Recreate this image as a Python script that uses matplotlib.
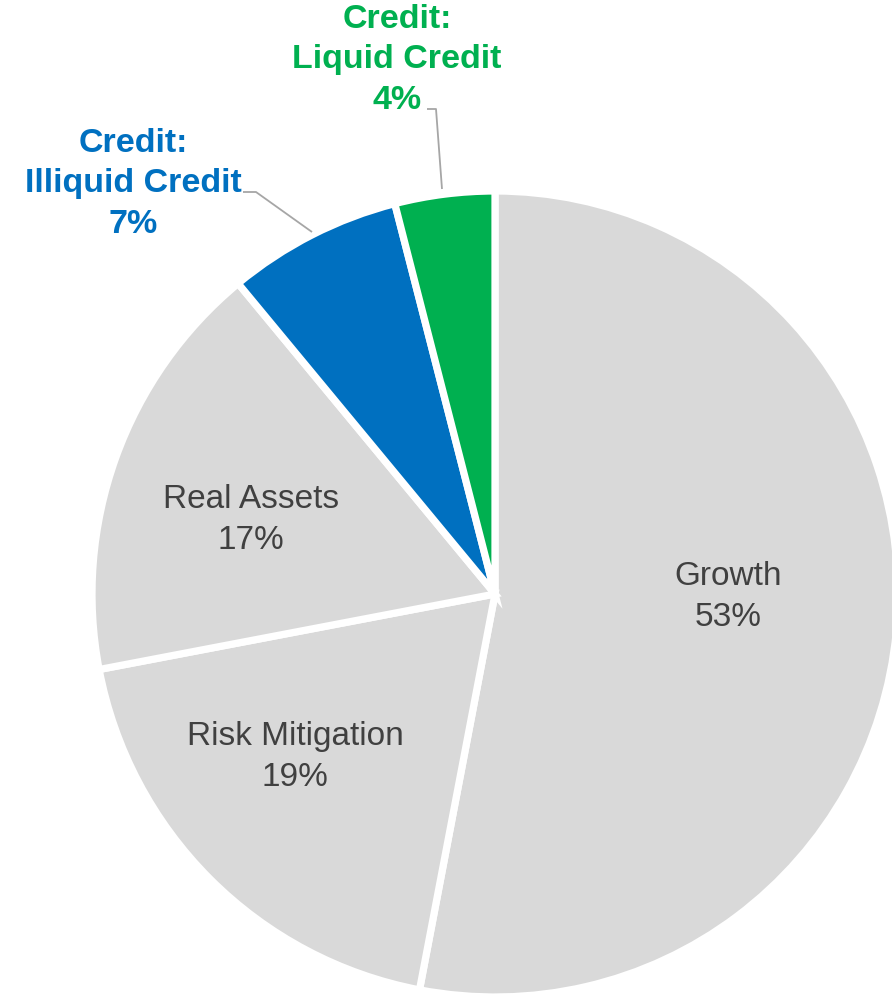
import matplotlib
matplotlib.use("Agg")
import matplotlib.pyplot as plt

plt.rcParams['font.family'] = ['Liberation Sans', 'DejaVu Sans']

# allocation shares, clockwise from 12 o'clock
CATEGORIES = ["Growth", "Risk Mitigation", "Real Assets",
              "Credit:\nIlliquid Credit", "Credit:\nLiquid Credit"]
SHARES = [53, 19, 17, 7, 4]
COLORS = ["#D9D9D9", "#D9D9D9", "#D9D9D9", "#0070C0", "#00B050"]
TEXT_COLORS = ["#404040", "#404040", "#404040", "#0070C0", "#00B050"]
BOLD = [False, False, False, True, True]

# canvas in pixel units (y measured from the bottom)
W, H = 892, 995
CENTER = (495, H - 595)
RADIUS = 403

# label anchors (pixels from top-left) and optional leader polylines
LABEL_POS = [(728, 597), (295, 757), (251, 520), (133, 184), (397, 60)]
LEADERS = [None, None, None,
           [(243, 193), (256, 193), (312, 233)],
           [(427, 110), (436, 110), (442, 190)]]

fig = plt.figure(figsize=(W / 100, H / 100), dpi=100)
ax = fig.add_axes([0, 0, 1, 1])

ax.pie(SHARES, colors=COLORS, startangle=90, counterclock=False,
       center=CENTER, radius=RADIUS, frame=True,
       wedgeprops=dict(edgecolor='white', linewidth=5.2))
ax.set_xlim(0, W)
ax.set_ylim(0, H)
ax.set_aspect('equal')
ax.axis('off')

for name, share, (px, py), tc, bold, lead in zip(
        CATEGORIES, SHARES, LABEL_POS, TEXT_COLORS, BOLD, LEADERS):
    ax.text(px, H - py, f"{name}\n{share}%", ha='center', va='center',
            fontsize=24.5 if bold else 24, color=tc,
            fontweight='bold' if bold else 'normal', linespacing=1.38)
    if lead:
        xs = [p[0] for p in lead]
        ys = [H - p[1] for p in lead]
        ax.plot(xs, ys, color='#A6A6A6', lw=1.3, solid_capstyle='butt')

fig.savefig("out.png", dpi=100)
